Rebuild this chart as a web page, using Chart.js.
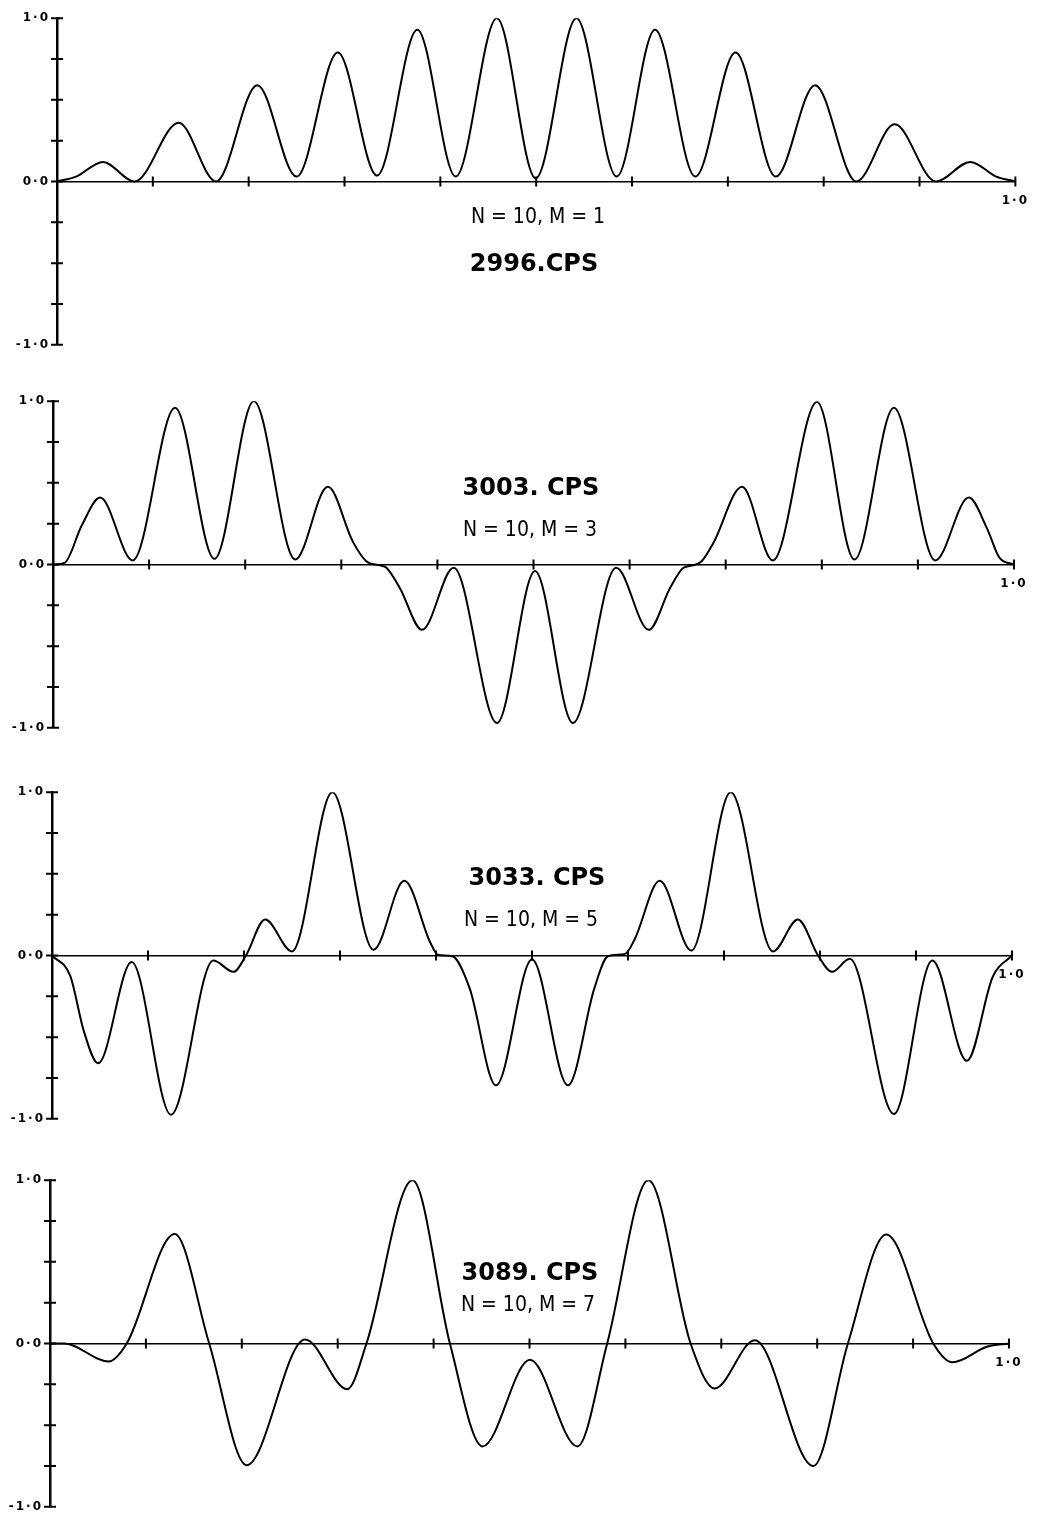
<!DOCTYPE html>
<html>
<head>
<meta charset="utf-8">
<title>Standing-wave amplitude, N = 10</title>
<script src="https://cdn.jsdelivr.net/npm/chart.js@4.4.1/dist/chart.umd.min.js"></script>
<style>
  html, body { margin: 0; padding: 0; background: #fff; }
  body { width: 1038px; height: 1519px; position: relative; overflow: hidden; }
  canvas.panel { position: absolute; left: 0; }
  .lbl { position: absolute; white-space: nowrap; color: #000; line-height: 1;
         font-family: "DejaVu Sans", sans-serif; }
  .freq { font-size: 24px; font-weight: bold; transform: translate(-50%, -50%); }
  .nm { font-size: 21px; transform: translate(-50%, -50%) scaleX(0.9); }
</style>
</head>
<body>
<script>
// ---- data: position along the string (0..1) and normalised amplitude ----
const xM1 = [0, 0.02, 0.048, 0.081, 0.127, 0.166, 0.209, 0.25, 0.293, 0.334, 0.376, 0.416, 0.459, 0.4995,
             0.542, 0.584, 0.624, 0.666, 0.708, 0.75, 0.791, 0.834, 0.874, 0.917, 0.953, 0.98, 1.0];
const yM1 = [0, 0.03, 0.12, 0.0, 0.36, 0.0, 0.59, 0.03, 0.79, 0.036, 0.93, 0.03, 1.0, 0.02,
             1.0, 0.03, 0.93, 0.03, 0.79, 0.03, 0.59, 0.0, 0.35, 0.0, 0.12, 0.03, 0.0];

const xM3 = [0, 0.012, 0.03, 0.049, 0.083, 0.127, 0.168, 0.209, 0.252, 0.286, 0.312, 0.326, 0.340, 0.347,
             0.361, 0.384, 0.417, 0.462, 0.5016, 0.541, 0.586, 0.620, 0.642, 0.656, 0.666, 0.675, 0.687,
             0.717, 0.749, 0.795, 0.834, 0.875, 0.918, 0.953, 0.972, 0.985, 1.0];
const yM3 = [0, 0.01, 0.24, 0.41, 0.025, 0.96, 0.035, 1.0, 0.03, 0.476, 0.14, 0.02, -0.005, -0.02,
             -0.145, -0.40, -0.02, -0.97, -0.04, -0.97, -0.02, -0.40, -0.145, -0.02, -0.005, 0.02, 0.13,
             0.476, 0.025, 0.995, 0.03, 0.96, 0.025, 0.41, 0.22, 0.04, 0];

const xM5 = [0, 0.019, 0.033, 0.048, 0.083, 0.124, 0.168, 0.189, 0.202, 0.222, 0.25, 0.292, 0.335, 0.367,
             0.394, 0.402, 0.417, 0.435, 0.4625, 0.5, 0.5375, 0.565, 0.579, 0.597, 0.607, 0.633, 0.666,
             0.707, 0.751, 0.777, 0.798, 0.8125, 0.831, 0.877, 0.917, 0.953, 0.98, 1.0];
const yM5 = [0, -0.125, -0.46, -0.66, -0.04, -0.975, -0.03, -0.10, 0.0, 0.22, 0.025, 1.0, 0.035, 0.458,
             0.08, 0.005, -0.005, -0.2, -0.795, -0.025, -0.795, -0.2, -0.005, 0.01, 0.1, 0.458, 0.03,
             1.0, 0.025, 0.22, 0.0, -0.10, -0.02, -0.97, -0.03, -0.645, -0.13, 0];

const xM7 = [0, 0.015, 0.061, 0.08, 0.130, 0.166, 0.205, 0.266, 0.31, 0.33, 0.378, 0.417, 0.451, 0.5005,
             0.55, 0.581, 0.624, 0.668, 0.693, 0.735, 0.796, 0.832, 0.872, 0.921, 0.941, 0.977, 1.0];
const yM7 = [0, 0.0, -0.11, 0.0, 0.67, 0.0, -0.745, 0.025, -0.28, 0.0, 1.0, 0.0, -0.63, -0.10,
             -0.63, 0.0, 1.0, 0.0, -0.275, 0.02, -0.75, 0.0, 0.667, 0.0, -0.115, -0.02, 0];

// frequency and mode captions
const freqLabels = ['2996.CPS', '3003. CPS', '3033. CPS', '3089. CPS'];
const modeLabels = ['N = 10, M = 1', 'N = 10, M = 3', 'N = 10, M = 5', 'N = 10, M = 7'];

// axis tick labels
const yTickText = { '1': '1\u00b70', '0': '0\u00b70', '-1': '-1\u00b70' };
const xEndTickText = '1\u00b70';

// ---- layout of the four stacked panels ----
const PAD = 12;         // canvas padding above/below the plot box
const BOX_H = 331;      // height of the plot box (+1 .. -1)
const layout = [
  { x: xM1, y: yM1, top: 16,   left: 57, right: 1018, freqAt: [534, 263], modeAt: [538, 216] },
  { x: xM3, y: yM3, top: 399,  left: 53, right: 1014, freqAt: [531, 487], modeAt: [530, 529] },
  { x: xM5, y: yM5, top: 790,  left: 52, right: 1012, freqAt: [537, 877], modeAt: [531, 919] },
  { x: xM7, y: yM7, top: 1178, left: 50, right: 1009, freqAt: [530, 1272], modeAt: [528, 1304] }
];

// short "+" tick marks crossing both axes
const crossTicks = {
  id: 'crossTicks',
  beforeDraw(chart) { chart.ctx.letterSpacing = '2px'; },
  afterDatasetsDraw(chart) {
    const { ctx, scales: { x, y } } = chart;
    const ax = x.getPixelForValue(0);
    const ay = y.getPixelForValue(0);
    ctx.save();
    ctx.strokeStyle = '#000';
    ctx.lineWidth = 2;
    ctx.beginPath();
    y.ticks.forEach(t => {
      const py = y.getPixelForValue(t.value);
      ctx.moveTo(ax - 6, py); ctx.lineTo(ax + 6, py);
    });
    x.ticks.forEach(t => {
      if (t.value < 1e-9) return;
      const px = x.getPixelForValue(t.value);
      ctx.moveTo(px, ay - 5); ctx.lineTo(px, ay + 5);
    });
    ctx.stroke();
    ctx.restore();
  },
  afterDraw(chart) { chart.ctx.letterSpacing = '0px'; }
};

const tickFont = { family: '"DejaVu Sans", sans-serif', size: 12, weight: 'bold' };

layout.forEach((p, i) => {
  const canvas = document.createElement('canvas');
  canvas.className = 'panel';
  canvas.width = 1038;
  canvas.height = BOX_H + 2 * PAD;
  canvas.style.top = (p.top - PAD) + 'px';
  canvas.style.width = '1038px';
  canvas.style.height = (BOX_H + 2 * PAD) + 'px';
  document.body.appendChild(canvas);

  const points = p.x.map((xv, k) => ({ x: xv, y: p.y[k] }));

  new Chart(canvas, {
    type: 'line',
    data: {
      datasets: [{
        data: points,
        borderColor: '#000',
        borderWidth: 2,
        pointRadius: 0,
        fill: false,
        cubicInterpolationMode: 'monotone'
      }]
    },
    options: {
      responsive: false,
      animation: false,
      events: [],
      layout: { padding: { left: 0, right: 1038 - p.right, top: PAD, bottom: PAD } },
      plugins: { legend: { display: false }, tooltip: { enabled: false } },
      scales: {
        x: {
          type: 'linear',
          min: 0, max: 1,
          position: { y: 0 },
          grid: { display: false, drawTicks: false },
          border: { display: true, color: '#000', width: 1.5 },
          ticks: {
            stepSize: 0.1,
            autoSkip: false,
            maxRotation: 0,
            padding: 12,
            color: '#000',
            font: tickFont,
            callback: v => (Math.abs(v - 1) < 1e-9 ? xEndTickText : '')
          }
        },
        y: {
          type: 'linear',
          min: -1, max: 1,
          position: 'left',
          grid: { display: false, drawTicks: false },
          border: { display: true, color: '#000', width: 2.5 },
          afterFit: s => { s.width = p.left; },
          ticks: {
            stepSize: 0.25,
            autoSkip: false,
            padding: 7,
            color: '#000',
            font: tickFont,
            callback: v => {
              const key = String(Math.round(v * 1000) / 1000);
              return yTickText[key] || '';
            }
          }
        }
      }
    },
    plugins: [crossTicks]
  });

  const f = document.createElement('div');
  f.className = 'lbl freq';
  f.textContent = freqLabels[i];
  f.style.left = p.freqAt[0] + 'px';
  f.style.top = p.freqAt[1] + 'px';
  document.body.appendChild(f);

  const m = document.createElement('div');
  m.className = 'lbl nm';
  m.textContent = modeLabels[i];
  m.style.left = p.modeAt[0] + 'px';
  m.style.top = p.modeAt[1] + 'px';
  document.body.appendChild(m);
});
</script>
</body>
</html>
